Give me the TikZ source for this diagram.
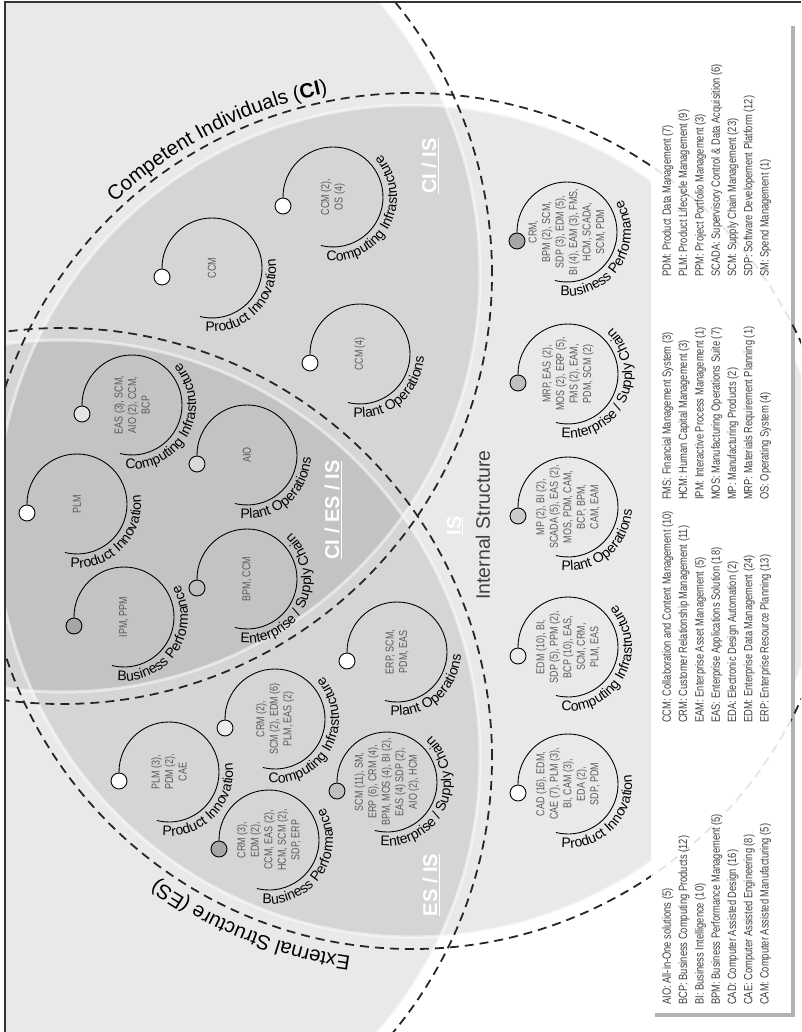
\documentclass[tikz,border=0pt]{standalone}
\usepackage{fontspec}
\setmainfont{Liberation Sans}
\newfontfamily\narrowfont{Liberation Sans}[FakeStretch=0.78]
\usetikzlibrary{decorations.text}
\newcommand{\legendfont}{\narrowfont\fontsize{12}{16.3}\selectfont}
\newcommand{\codefont}{\narrowfont\fontsize{11.5}{13.5}\selectfont}
\newcommand{\gaugefont}{\fontsize{14}{14}\selectfont}
\newcommand{\arcfont}{\fontsize{20.5}{20.5}\selectfont}
\newcommand{\gauge}[6]{%
  \begin{scope}[shift={(#2,-#3)}]
    \draw[gaugeline] (-50,-9) -- (-50,0) arc[start angle=180, end angle=-104, radius=50];
    \node (#1) at (0,0) [codes] {#5};
    \node (#1dot) at (-50,-9) [knob, fill=#4] {};
    \path[decorate, decoration={text along path, text align=left, text={|\gaugefont|#6}}]
      (264:64) arc[start angle=264, end angle=470, radius=64];
  \end{scope}}
\begin{document}
\begin{tikzpicture}[x=1pt, y=1pt,
	gaugeline/.style={line width=0.9pt},
	knob/.style={circle, draw, line width=0.9pt, minimum size=16pt, inner sep=0pt},
	codes/.style={rotate=90, align=center, text=black!65, font=\codefont},
	lobe/.style={fill=black, fill opacity=0.085},
	rim/.style={draw=white, line width=3pt, draw opacity=0.5},
	ring/.style={dash pattern=on 9pt off 6pt, line width=1.8pt, draw=black!85},
	tag/.style={rotate=90, text=white, font=\fontsize{20}{20}\selectfont\bfseries},
	entry/.style={rotate=90, anchor=north west, inner sep=0pt, align=left, text=black!75, font=\legendfont}]
	\useasboundingbox (0,0) rectangle (801,-1032);
	\begin{scope}
		\clip (5,-2) rectangle (801,-1032);
		\fill[lobe] (62,-274) circle[radius=418];
		\fill[lobe] (62,-758) circle[radius=418];
		\fill[lobe] (412,-521) circle[radius=416];
		\draw[rim] (62,-274) circle[radius=418];
		\draw[rim] (62,-758) circle[radius=418];
		\draw[rim] (412,-521) circle[radius=416];
		\fill[black!30] (655,-26) rectangle (795,-1017);
		\fill[white] (651,-22) rectangle (791,-1013);
		\draw[ring] (62,-274) circle[radius=430];
		\draw[ring] (62,-758) circle[radius=430];
		\draw[ring] (412,-521) circle[radius=428];
		\fill[white, fill opacity=0.88] (651,-22) rectangle (791,-1013);
	\end{scope}
	\node (ciis)  at (430,-166) [tag] {\underline{CI / IS}};
	\node (all)   at (333,-510) [tag] {\underline{CI / ES / IS}};
	\node (esis)  at (431,-885) [tag] {\underline{ES / IS}};
	\node (is)    at (455,-526) [tag] {\underline{IS}};
	\node (intl)  at (483,-525) [rotate=90, text=black!75, font=\fontsize{19.5}{20}\selectfont] {Internal Structure};
	\path[decorate, decoration={text along path, text align=left,
		text={|\arcfont|Competent Individuals (|\arcfont\bfseries|CI|\arcfont|)}}]
		(412,-521) ++(133:436) arc[start angle=133, end angle=90, radius=436];
	\path[decorate, decoration={text along path, text align=left,
		text={|\arcfont|External Structure (ES)}}]
		(412,-521) ++(262:440) arc[start angle=262, end angle=215, radius=440];
	\gauge{ci1}{212}{268}{white}{CCM}{Product Innovation}
	\gauge{ci2}{333}{197}{white}{CCM (2),\\OS (4)}{Computing Infrastructure}
	\gauge{ci3}{360}{354}{white}{CCM (4)}{Plant Operations}
	\gauge{all1}{132}{405}{black!10}{EAS (3), SCM,\\AIO (2), CCM,\\BCP}{Computing Infrastructure}
	\gauge{all2}{247}{455}{black!15}{AIO}{Plant Operations}
	\gauge{all3}{77}{504}{white}{PLM}{Product Innovation}
	\gauge{all4}{247}{579}{black!25}{BPM, CCM}{Enterprise / Supply Chain}
	\gauge{all5}{124}{617}{black!35}{IPM, PPM}{Business Performance}
	\gauge{es1}{169}{772}{white}{PLM (3),\\PDM (2),\\CAE}{Product Innovation}
	\gauge{es2}{275}{719}{black!8}{CRM (2),\\SCM (2), EDM (6)\\PLM, EAS (2)}{Computing Infrastructure}
	\gauge{es3}{269}{840}{black!35}{CRM (3),\\EDM (2),\\CCM, EAS (2),\\HCM, SCM (2),\\SDP, ERP}{Business Performance}
	\gauge{es4}{387}{782}{black!25}{SCM (11), SM,\\ERP (6), CRM (4),\\BPM, MOS (4), BI (2),\\EAS (4) SDP (2),\\AIO (2), HCM}{Enterprise / Supply Chain}
	\gauge{es5}{397}{652}{white}{ERP, SCM,\\PDM, EAS}{Plant Operations}
	\gauge{is1}{568}{784}{white}{CAD (16), EDM,\\CAE (7), PLM (3),\\BI, CAM (3),\\EDA (2),\\SDP, PDM}{Product Innovation}
	\gauge{is2}{568}{647}{black!8}{EDM (10), BI,\\SDP (5), PPM (2),\\BCP (10), EAS,\\SCM, CRM,\\PLM, EAS}{Computing Infrastructure}
	\gauge{is3}{568}{507}{black!20}{MP (2), BI (2),\\SCADA (5), EAS (2),\\MOS, PDM, CAM,\\BCP, BPM,\\CAM, EAM}{Plant Operations}
	\gauge{is4}{568}{374}{black!25}{MRP, EAS (2),\\MOS (2), ERP (5),\\FMS (2), EAM,\\PDM, SCM (2)}{Enterprise / Supply Chain}
	\gauge{is5}{567}{232}{black!35}{CRM,\\BPM (2), SCM,\\SDP (3), EDM (5),\\BI (4), EAM (3), FMS,\\HCM, SCADA,\\SCM, PDM}{Business Performance}
	\node (key1) at (662,-1005) [entry] {AIO: All-in-One solutions (5)\\BCP: Business Computing Products (12)\\BI: Business Intelligence (10)\\BPM: Business Performance Management (5)\\CAD: Computer Assisted Design (16)\\CAE: Computer Assisted Engineering (8)\\CAM: Computer Assisted Manufacturing (5)};
	\node (key2) at (662,-723) [entry] {CCM: Collaboration and Content Management (10)\\CRM: Customer Relationship Management (11)\\EAM: Enterprise Asset Management (5)\\EAS: Enterprise Applications Solution (18)\\EDA: Electronic Design Automation (2)\\EDM: Enterprise Data Management (24)\\ERP: Enterprise Resource Planning (13)};
	\node (key3) at (662,-500) [entry] {FMS: Financial Management System (3)\\HCM: Human Capital Management (3)\\IPM: Interactive Process Management (1)\\MOS: Manufacturing Operations Suite (7)\\MP: Manufacturing Products (2)\\MRP: Materials Requirement Planning (1)\\OS: Operating System (4)};
	\node (key4) at (662,-277) [entry] {PDM: Product Data Management (7)\\PLM: Product Lifecycle Management (9)\\PPM: Project Portfolio Management (3)\\SCADA: Supervisory Control \& Data Acquisition (6)\\SCM: Supply Chain Management (23)\\SDP: Software Developement Platform (12)\\SM: Spend Management (1)};
	\draw[line width=1.3pt, black!80] (5,-1032) -- (5,-2) -- (801,-2);
\end{tikzpicture}
\end{document}
